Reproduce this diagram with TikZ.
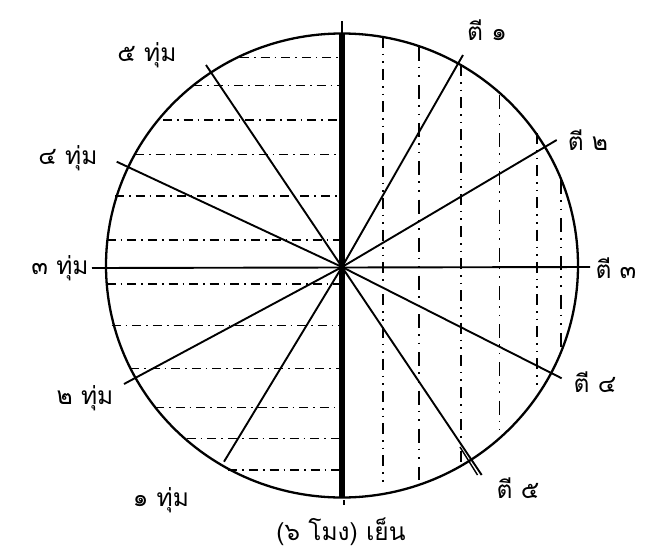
\documentclass[tikz,border=0pt]{standalone}
\usepackage{fontspec}
\newfontfamily\thaifont[Script=Thai]{Loma}
\begin{document}
\begin{tikzpicture}[x=1pt,y=-1pt,
  lbl/.style={font=\thaifont\fontsize{24.5}{28}\selectfont, inner sep=0pt},
  ray/.style={line width=1.9pt},
  rim/.style={line width=2.3pt},
  hdash/.style={line width=1.3pt, dash pattern=on 9pt off 5pt on 1.6pt off 5pt},
  vdashA/.style={line width=1.6pt, dash pattern=on 11pt off 6pt on 1.6pt off 6pt on 1.6pt off 6pt},
  vdashB/.style={line width=1.6pt, dash pattern=on 14pt off 6pt on 1.6pt off 7pt on 1.6pt off 8pt}]
\useasboundingbox (0,0) rectangle (646,552);
\coordinate (O) at (342,267);
\coordinate (C) at (342,265.5);
% horizontal dash-dot lines (left half)
\foreach \yy/\xx in {57.7/240,85.7/193,120/163,154.3/135,196/115,240/106.7,284/106.7,325.7/111.7,368.3/130,407.3/155,438.3/186.7,470/228.3}
  \draw[hdash] (\xx,\yy) -- (340,\yy);
% vertical dashed lines (right half)
\draw[vdashA] (382.7,36.7) -- (382.7,486.7);
\draw[vdashB] (419,46.7) -- (419,480);
\draw[vdashA] (461,65) -- (461,461.7);
\draw[vdashB] (499.3,95) -- (499.3,430);
\draw[vdashA] (536.7,133) -- (536.7,390);
\draw[vdashB] (561,180) -- (561,348);
% circle
\draw[rim] (C) ellipse [x radius=236pt, y radius=232pt];
% axis
\coordinate (axL) at (92,268);
\coordinate (axR) at (590,267);
\draw[ray] (axL) -- (axR);
% thick vertical
\coordinate (vT) at (342,33);
\coordinate (vB) at (342,497);
\draw[line width=5.5pt] (vT) -- (vB);
\coordinate (tT) at (342,21);
\draw[line width=1.4pt] (tT) -- (vT);
\draw[line width=1.2pt] (344,500) -- (344,505);
% rays
\coordinate (r1) at (463,55);
\coordinate (r2) at (556.7,140);
\coordinate (r4) at (561.7,378.3);
\coordinate (r5) at (481.7,475);
\coordinate (l5) at (206,65);
\coordinate (l4) at (116.7,161.7);
\coordinate (l2) at (124,384);
\coordinate (l1) at (224,461.7);
\foreach \p in {r1,r2,r4,r5,l5,l4,l2,l1}
  \draw[ray] (O) -- (\p);
\draw[line width=1.4pt] (460,447) -- (477.5,475);
% labels
\node[lbl] (t5) at (147,55) {๕ ทุ่ม};
\node[lbl] (t4) at (68,158) {๔ ทุ่ม};
\node[lbl] (t3) at (60,268) {๓ ทุ่ม};
\node[lbl] (t2) at (85,398) {๒ ทุ่ม};
\node[lbl] (t1) at (161,500) {๑ ทุ่ม};
\node[lbl] (t6) at (341,532) {(๖ โมง) เย็น};
\node[lbl] (d1) at (487,30) {ตี ๑};
\node[lbl] (d2) at (588,140) {ตี ๒};
\node[lbl] (d3) at (616,268) {ตี ๓};
\node[lbl] (d4) at (595,382) {ตี ๔};
\node[lbl] (d5) at (518,488) {ตี ๕};
\end{tikzpicture}
\end{document}
